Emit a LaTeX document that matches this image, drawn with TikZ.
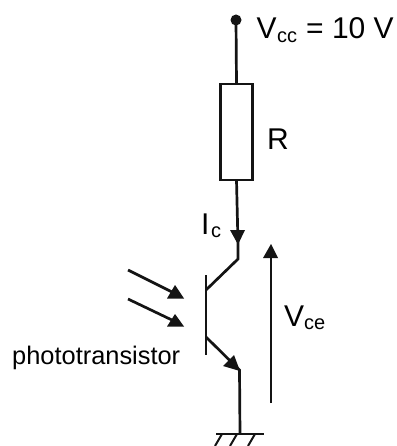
\documentclass[tikz,border=0pt]{standalone}
\usepackage{fontspec}
\setmainfont{Liberation Sans}
\usetikzlibrary{arrows.meta}
\tikzset{
  x=1pt,y=-1pt,
  wire/.style={line width=2.7pt,black!92},
  hatch/.style={line width=2pt,black!92},
  head/.style={fill=black!92,draw=none},
  lbl/.style={inner sep=0pt,anchor=base west,font=\fontsize{30}{30}\selectfont},
  small/.style={inner sep=0pt,anchor=base west,font=\fontsize{25.4}{26}\selectfont},
  sub/.style={inner sep=0pt,anchor=base west,font=\fontsize{20}{20}\selectfont},
}
\begin{document}
\begin{tikzpicture}
\useasboundingbox (0,0) rectangle (396,446);
\coordinate (top) at (236,20);
\node[draw,line width=2.2pt,black!92,minimum width=32pt,minimum height=96pt,inner sep=0pt,outer sep=0pt] (R) at (236.5,132) {};
\fill[black!92] (top) circle (5.5pt);
\coordinate (ic) at (238,244);
\coordinate (c1) at (238,259);
\coordinate (c2) at (206,290);
\coordinate (b1) at (206,275);
\coordinate (b2) at (206,355);
\coordinate (e1) at (206,337);
\coordinate (e2) at (239.5,370);
\coordinate (g) at (240,434);
\coordinate (v1) at (271,403);
\coordinate (v2) at (271,258);
\coordinate (l1a) at (128,270);
\coordinate (l1b) at (174,293);
\coordinate (l2a) at (128,299);
\coordinate (l2b) at (174,321);
\coordinate (gl) at (216,434);
\coordinate (gr) at (264,434);
\draw[wire] (top) -- (R.north);
\draw[wire] (R.south) -- (ic) -- (c1) -- (c2);
\fill[head] (230,230) -- (245,230) -- (238,244.5) -- cycle;
\draw[wire] (b1) -- (b2);
\draw[wire] (e1) -- (e2) -- (g);
\fill[head] (223,366) -- (240,371) -- (234,355) -- cycle;
\draw[wire] (v1) -- (v2);
\fill[head] (263,258) -- (278,258) -- (271,244) -- cycle;
\draw[wire] (l1a) -- (l1b);
\fill[head] (167,298.5) -- (184,298.5) -- (175,285) -- cycle;
\draw[wire] (l2a) -- (l2b);
\fill[head] (167,326.5) -- (184,326.5) -- (175,314) -- cycle;
\draw[wire] (gl) -- (gr);
\draw[hatch] (222,434) -- (215,446);
\draw[hatch] (237,434) -- (230,446);
\draw[hatch] (255,434) -- (248,446);
\node[lbl] (vcc) at (256.5,39) {V};
\node[sub] (vccs) at (277,43) {cc};
\node[lbl] (vcct) at (306,39) {= 10 V};
\node[lbl] (rl) at (267,150) {R};
\node[lbl] (il) at (201,234) {I};
\node[sub] (ils) at (211,237) {c};
\node[lbl] (vce) at (284,326) {V};
\node[sub] (vces) at (304,329) {ce};
\node[small] (pt) at (12,364) {phototransistor};
\end{tikzpicture}
\end{document}
